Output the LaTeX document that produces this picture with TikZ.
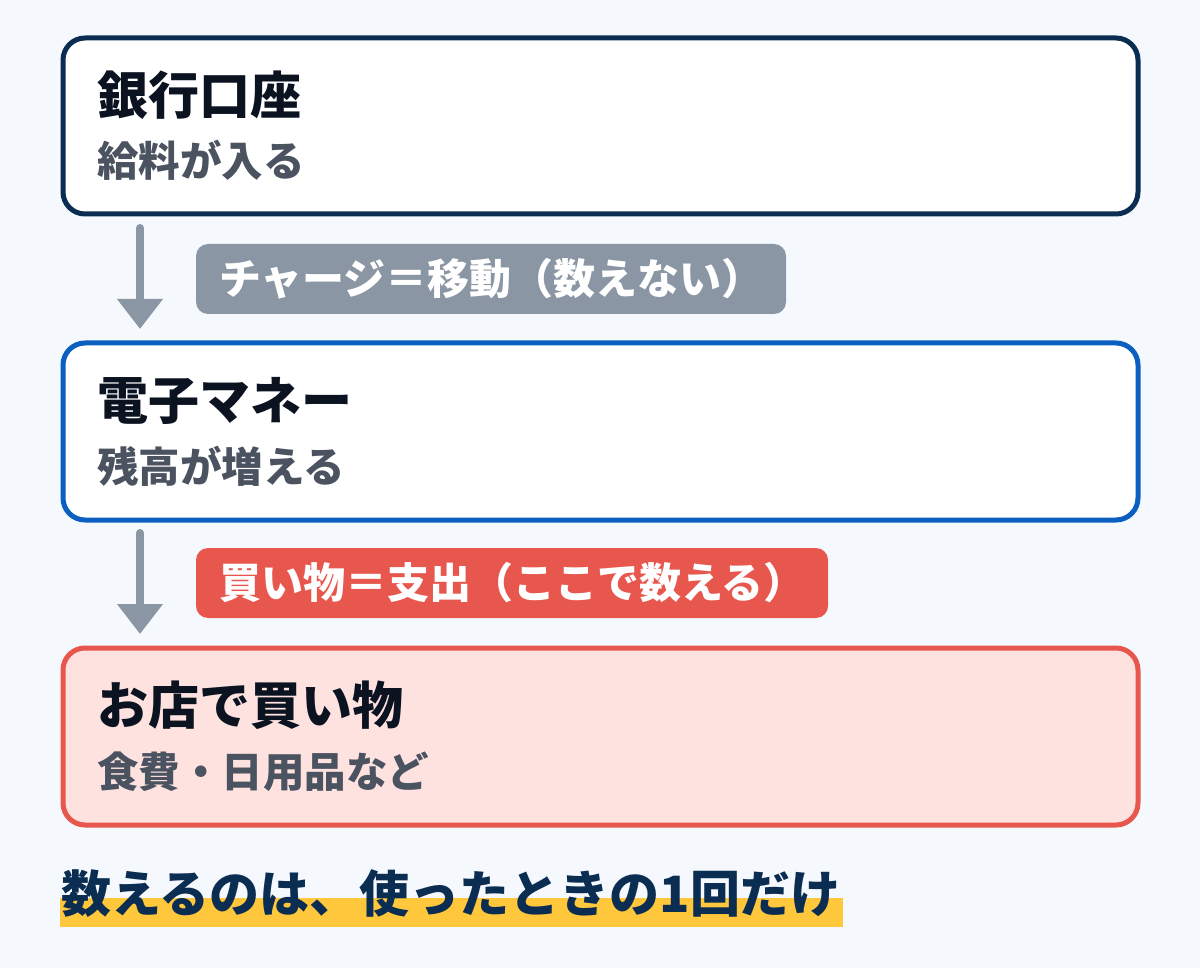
\documentclass[tikz,border=0pt]{standalone}
\usepackage{fontspec}
\setmainfont{Noto Sans CJK JP}
\newfontfamily\jpblk{Noto Sans CJK JP Black}
\usetikzlibrary{arrows.meta}
\definecolor{bg}{HTML}{F5F9FE}
\definecolor{navy}{HTML}{0B2D52}
\definecolor{ink}{HTML}{0B1220}
\definecolor{sub}{HTML}{4B5260}
\definecolor{blu}{HTML}{0B5FC0}
\definecolor{red}{HTML}{E8574E}
\definecolor{pink}{HTML}{FEE2E0}
\definecolor{gry}{HTML}{8A96A3}
\definecolor{yel}{HTML}{FFC83C}
\tikzset{
  card/.style={line width=5pt, rounded corners=22pt},
  ttl/.style={anchor=base west, inner sep=0pt, text=ink, font=\fontsize{51}{55}\jpblk},
  subt/.style={anchor=base west, inner sep=0pt, text=sub, font=\fontsize{41.5}{45}\selectfont\bfseries},
  tag/.style={rounded corners=12pt},
  tagtxt/.style={anchor=west, inner sep=0pt, text=white, font=\fontsize{42}{46}\selectfont\bfseries},
  flow/.style={draw=gry, line width=8pt, line cap=round, -{Triangle[length=30pt,width=44pt,line cap=butt]}},
}
\begin{document}
\begin{tikzpicture}[x=1pt,y=-1pt]
\fill[bg] (0,0) rectangle (1200,968);
\useasboundingbox (0,0) rectangle (1200,968);
% box 1
\draw[card, draw=navy, fill=white] (63,38) rectangle (1138,214);
\node[ttl] (t1) at (97,115) {銀行口座};
\node[subt] (s1) at (97,177) {給料が入る};
% arrow 1
\coordinate (a1s) at (140,228);
\coordinate (a1e) at (140,329);
\draw[flow] (a1s) -- (a1e);
\fill[gry, tag] (196,244) rectangle (786,314);
\node[tagtxt] (l1) at (219,279) {チャージ＝移動（数えない）};
% box 2
\draw[card, draw=blu, fill=white] (63,343) rectangle (1138,520);
\node[ttl] (t2) at (97,420) {電子マネー};
\node[subt] (s2) at (97,482) {残高が増える};
% arrow 2
\coordinate (a2s) at (140,533);
\coordinate (a2e) at (140,634);
\draw[flow] (a2s) -- (a2e);
\fill[red, tag] (196,548) rectangle (828,618);
\node[tagtxt] (l2) at (219,583) {買い物＝支出（ここで数える）};
% box 3
\draw[card, draw=red, fill=pink] (63,648) rectangle (1138,825);
\node[ttl] (t3) at (97,724) {お店で買い物};
\node[subt] (s3) at (97,787) {食費・日用品など};
% bottom
\fill[yel] (60,898) rectangle (843,927);
\node[anchor=base west, inner sep=0pt, text=navy, font=\fontsize{50}{54}\jpblk] (bt) at (61,912) {数えるのは、使ったときの1回だけ};
\end{tikzpicture}
\end{document}
